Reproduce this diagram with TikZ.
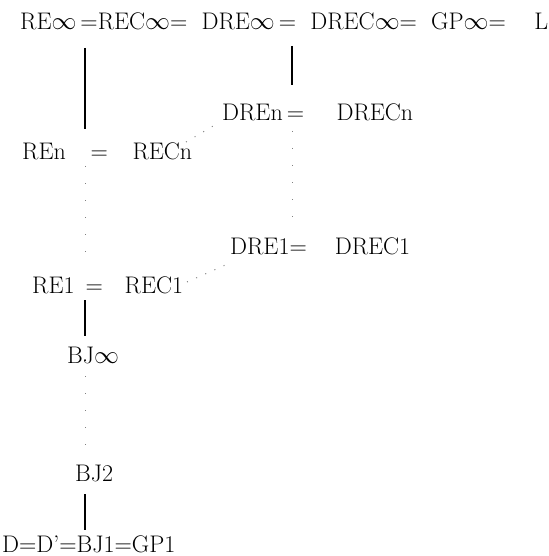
\documentclass[tikz,border=0pt]{standalone}
\usepackage{fontspec}
\begin{document}
\begin{tikzpicture}[x=1pt,y=-1pt,
  lbl/.style={inner sep=0pt,anchor=base west,font=\fontsize{24}{28}\selectfont},
  solid line/.style={line width=2pt},
  dotline/.style={line width=1pt,dash pattern=on 1pt off 16pt,gray},
  diagdot/.style={dotline,dash pattern=on 1pt off 9pt}]
\useasboundingbox (0,0) rectangle (548,556);
\node[lbl] (top) at (20,30) {\makebox[528pt][s]{RE$\infty$\,=REC$\infty$= DRE$\infty$\,= DREC$\infty$= GP$\infty$= \ L}};
\node[lbl] (dren) at (222,121) {\makebox[191pt][s]{DREn\,= \ DRECn}};
\node[lbl] (ren) at (22,160) {\makebox[170pt][s]{REn \ = \ RECn}};
\node[lbl] (dre1) at (230,254) {\makebox[180pt][s]{DRE1= \ DREC1}};
\node[lbl] (re1) at (32,293) {\makebox[151pt][s]{RE1 = \ REC1}};
\node[lbl] (bjinf) at (67,363) {BJ$\infty$};
\node[lbl] (bj2) at (75,481) {BJ2};
\node[lbl] (bot) at (2,552) {D=D'=BJ1=GP1};
\coordinate (a1) at (85,48);  \coordinate (a2) at (85,129);
\coordinate (b1) at (292,46); \coordinate (b2) at (292,85);
\coordinate (c1) at (85,300); \coordinate (c2) at (85,336);
\coordinate (d1) at (85,494); \coordinate (d2) at (85,530);
\draw[solid line] (a1) -- (a2);
\draw[solid line] (b1) -- (b2);
\draw[solid line] (c1) -- (c2);
\draw[solid line] (d1) -- (d2);
\coordinate (e1) at (85,166); \coordinate (e2) at (85,266);
\coordinate (f1) at (292,131); \coordinate (f2) at (292,232);
\coordinate (g1) at (186,142); \coordinate (g2) at (220,122);
\coordinate (h1) at (187,282); \coordinate (h2) at (230,263);
\coordinate (i1) at (85,376); \coordinate (i2) at (85,460);
\draw[dotline] (e1) -- (e2);
\draw[dotline] (f1) -- (f2);
\draw[diagdot] (g1) -- (g2);
\draw[diagdot] (h1) -- (h2);
\draw[dotline] (i1) -- (i2);
\end{tikzpicture}
\end{document}
